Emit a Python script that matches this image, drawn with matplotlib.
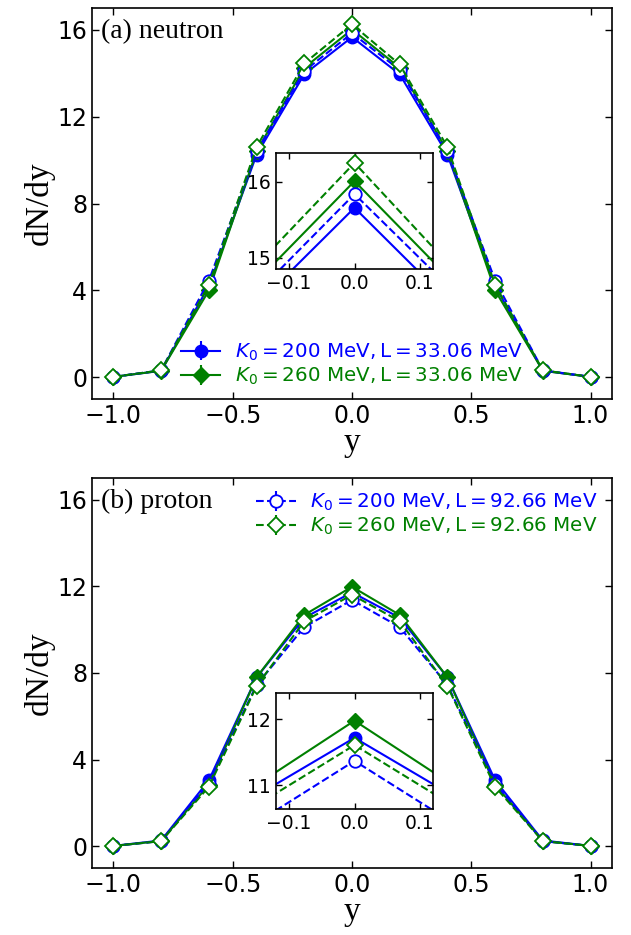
import matplotlib.pyplot as plt
import numpy as np

# rapidity bins
y = [-1.0, -0.8, -0.6, -0.4, -0.2, 0.0, 0.2, 0.4, 0.6, 0.8, 1.0]

# (a) neutron dN/dy
n_k200_l33 = [0.02, 0.30, 4.20, 10.25, 13.95, 15.66, 13.95, 10.25, 4.20, 0.30, 0.02]
n_k260_l33 = [0.02, 0.30, 4.00, 10.40, 14.25, 16.01, 14.25, 10.40, 4.00, 0.30, 0.02]
n_k200_l92 = [0.02, 0.32, 4.45, 10.40, 14.10, 15.84, 14.15, 10.40, 4.45, 0.32, 0.02]
n_k260_l92 = [0.02, 0.32, 4.25, 10.60, 14.45, 16.25, 14.40, 10.60, 4.25, 0.32, 0.02]

# (b) proton dN/dy
p_k200_l33 = [0.02, 0.27, 3.05, 7.80, 10.55, 11.72, 10.55, 7.80, 3.05, 0.27, 0.02]
p_k260_l33 = [0.02, 0.25, 2.85, 7.80, 10.68, 11.98, 10.68, 7.80, 2.85, 0.25, 0.02]
p_k200_l92 = [0.02, 0.24, 2.90, 7.45, 10.12, 11.37, 10.12, 7.45, 2.90, 0.24, 0.02]
p_k260_l92 = [0.02, 0.24, 2.75, 7.40, 10.39, 11.61, 10.39, 7.40, 2.75, 0.24, 0.02]

lab_k200_l33 = r'$K_0 = 200\ \mathrm{MeV, L = 33.06\ MeV}$'
lab_k260_l33 = r'$K_0 = 260\ \mathrm{MeV, L = 33.06\ MeV}$'
lab_k200_l92 = r'$K_0 = 200\ \mathrm{MeV, L = 92.66\ MeV}$'
lab_k260_l92 = r'$K_0 = 260\ \mathrm{MeV, L = 92.66\ MeV}$'

BLUE = '#0000ff'
GREEN = '#008000'

plt.rcParams['mathtext.fontset'] = 'dejavusans'


def draw_series(ax, s1, s2, s3, s4, ms=9):
    zero = np.zeros(len(y))
    h1 = ax.errorbar(y, s1, yerr=zero, color=BLUE, ls='-', lw=1.5, marker='o',
                     ms=ms, mfc=BLUE, mec=BLUE, label=lab_k200_l33)
    h2 = ax.errorbar(y, s2, yerr=zero, color=GREEN, ls='-', lw=1.5, marker='D',
                     ms=ms - 0.5, mfc=GREEN, mec=GREEN, label=lab_k260_l33)
    h3 = ax.errorbar(y, s3, yerr=zero, color=BLUE, ls='--', lw=1.5, marker='o',
                     ms=ms, mfc='white', mec=BLUE, mew=1.3, label=lab_k200_l92)
    h4 = ax.errorbar(y, s4, yerr=zero, color=GREEN, ls='--', lw=1.5, marker='D',
                     ms=ms - 0.5, mfc='white', mec=GREEN, mew=1.3, label=lab_k260_l92)
    return h1, h2, h3, h4


def style(ax, size):
    ax.tick_params(direction='in', top=True, right=True, labelsize=size,
                   length=5, width=1)
    for sp in ax.spines.values():
        sp.set_linewidth(1.2)


fig = plt.figure(figsize=(6.31, 9.35), dpi=100)
W, H = 631, 935

panels = [
    (8, 399, 153, n_k200_l33, n_k260_l33, n_k200_l92, n_k260_l92, '(a) neutron', (14.855, 16.38), [15, 16]),
    (478, 868, 693, p_k200_l33, p_k260_l33, p_k200_l92, p_k260_l92, '(b) proton', (10.64, 12.4), [11, 12]),
]

for i, (top, bot, itop, s1, s2, s3, s4, title, ilim, iticks) in enumerate(panels):
    ax = fig.add_axes([92 / W, 1 - bot / H, 520 / W, (bot - top) / H])
    hs = draw_series(ax, s1, s2, s3, s4)
    ax.set_xlim(-1.09, 1.09)
    ax.set_ylim(-1, 17)
    ax.set_xticks([-1.0, -0.5, 0.0, 0.5, 1.0])
    ax.set_yticks([0, 4, 8, 12, 16])
    style(ax, 17)
    ax.set_xlabel('y', family='Liberation Serif', fontsize=24, labelpad=0)
    ax.set_ylabel('dN/dy', family='Liberation Serif', fontsize=24, labelpad=2)
    ax.text(0.018, 0.94, title, transform=ax.transAxes, family='Liberation Serif',
            fontsize=20, va='center', ha='left')

    if i == 0:
        leg = ax.legend(handles=[hs[0], hs[1]], loc='lower center',
                        bbox_to_anchor=(0.5, 0.0), fontsize=14.3, frameon=False,
                        handlelength=2.0, handletextpad=0.75,
                        labelspacing=0.15, borderaxespad=0.2)
    else:
        leg = ax.legend(handles=[hs[2], hs[3]], loc='upper right',
                        fontsize=14.3, frameon=False, handlelength=2.0,
                        handletextpad=0.75, labelspacing=0.15,
                        borderaxespad=0.3)
    for t, c in zip(leg.get_texts(), [BLUE, GREEN]):
        t.set_color(c)

    # zoomed inset around y = 0
    ibot = itop + 116
    ins = fig.add_axes([276 / W, 1 - ibot / H, 157 / W, 116 / H])
    draw_series(ins, s1, s2, s3, s4)
    ins.set_xlim(-0.12, 0.12)
    ins.set_ylim(*ilim)
    ins.set_xticks([-0.1, 0.0, 0.1])
    ins.set_yticks(iticks)
    style(ins, 13.5)
    ins.tick_params(length=4)

fig.savefig('out.png', dpi=100)
